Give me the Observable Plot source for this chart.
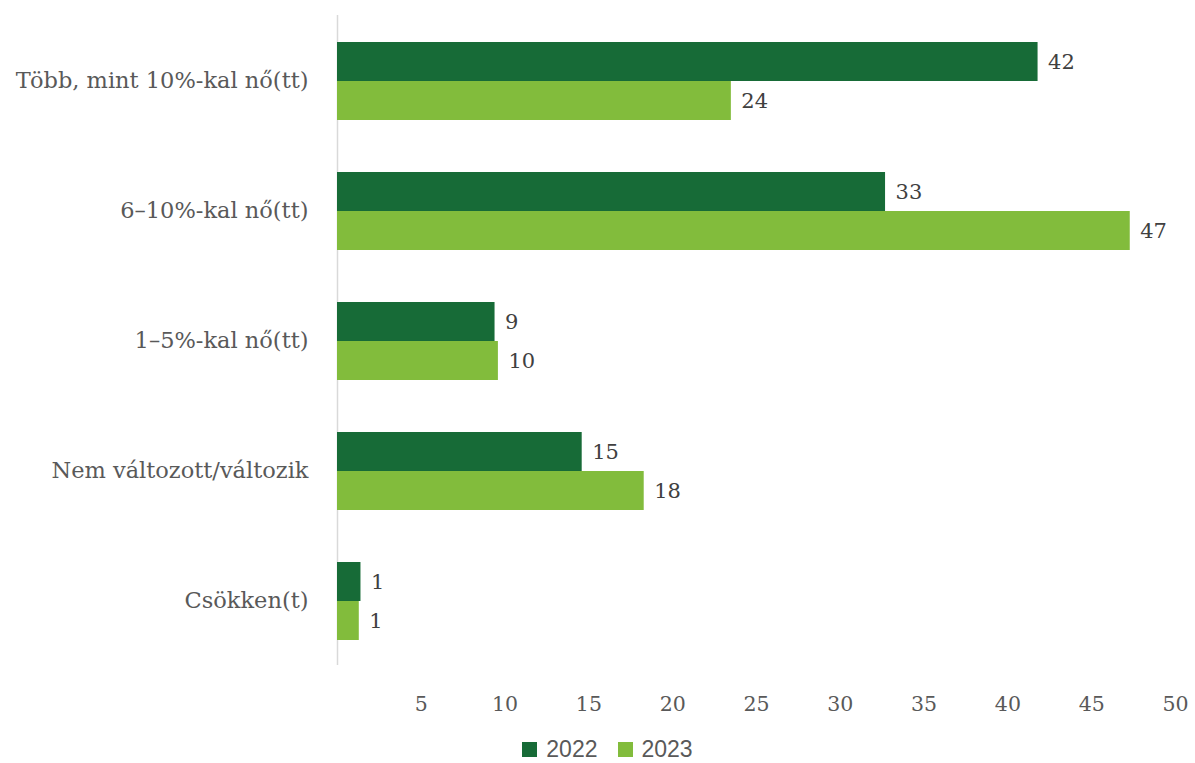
<!DOCTYPE html>
<html>
<head>
<meta charset="utf-8">
<script src="https://cdn.jsdelivr.net/npm/d3@7"></script>
<script src="https://cdn.jsdelivr.net/npm/@observablehq/plot@0.6"></script>
<style>
  body { margin: 0; background: #fff; }
  #legend { display: flex; justify-content: center; gap: 20px; font-family: "Liberation Sans", Arial, sans-serif; font-size: 23px; color: #595959; margin-top: 8px; padding-left: 20px; }
  #legend span.item { display: flex; align-items: center; gap: 9px; }
  #legend span.sw { display: inline-block; width: 15px; height: 15px; }
</style>
</head>
<body>
<div id="chart"></div>
<div id="legend"></div>
<script>
const categories = [
  "Több, mint 10%-kal nő(tt)",
  "6–10%-kal nő(tt)",
  "1–5%-kal nő(tt)",
  "Nem változott/változik",
  "Csökken(t)"
];
const years = ["2022", "2023"];
const values2022 = [41.8, 32.7, 9.4, 14.6, 1.4];
const values2023 = [23.5, 47.3, 9.6, 18.3, 1.3];
const xTicks = [5, 10, 15, 20, 25, 30, 35, 40, 45, 50];
const colors = ["#176B37", "#82BC3C"];

const d2022 = categories.map((c, i) => ({cat: c, year: years[0], value: values2022[i]}));
const d2023 = categories.map((c, i) => ({cat: c, year: years[1], value: values2023[i]}));

const font = '"DejaVu Serif", "Liberation Serif", serif';

const chart = Plot.plot({
  width: 1195,
  height: 728,
  marginTop: 15,
  marginBottom: 63,
  marginLeft: 337,
  marginRight: 20,
  style: {fontFamily: font, color: "#595959", background: "#fff"},
  x: {domain: [0, 50], label: null},
  y: {domain: categories, padding: 0, label: null},
  marks: [
    Plot.ruleX([0], {stroke: "#d9d9d9", strokeWidth: 1.5}),
    Plot.barX(d2022, {x: "value", y: "cat", fill: colors[0], insetTop: 27, insetBottom: 64}),
    Plot.barX(d2023, {x: "value", y: "cat", fill: colors[1], insetTop: 66, insetBottom: 25}),
    Plot.text(d2022, {x: "value", y: "cat", text: d => String(Math.round(d.value)), dx: 10, dy: -18.5, textAnchor: "start", fill: "#404040", fontSize: 21}),
    Plot.text(d2023, {x: "value", y: "cat", text: d => String(Math.round(d.value)), dx: 10, dy: 20.5, textAnchor: "start", fill: "#404040", fontSize: 21}),
    Plot.axisY({tickSize: 0, tickPadding: 29, fontSize: 22.5, label: null}),
    Plot.axisX({ticks: xTicks, tickSize: 0, tickPadding: 31, fontSize: 20.5, label: null})
  ]
});
document.getElementById("chart").appendChild(chart);

const legend = document.getElementById("legend");
years.forEach((y, i) => {
  const item = document.createElement("span");
  item.className = "item";
  const sw = document.createElement("span");
  sw.className = "sw";
  sw.style.background = colors[i];
  const t = document.createElement("span");
  t.textContent = y;
  item.appendChild(sw);
  item.appendChild(t);
  legend.appendChild(item);
});
</script>
</body>
</html>
